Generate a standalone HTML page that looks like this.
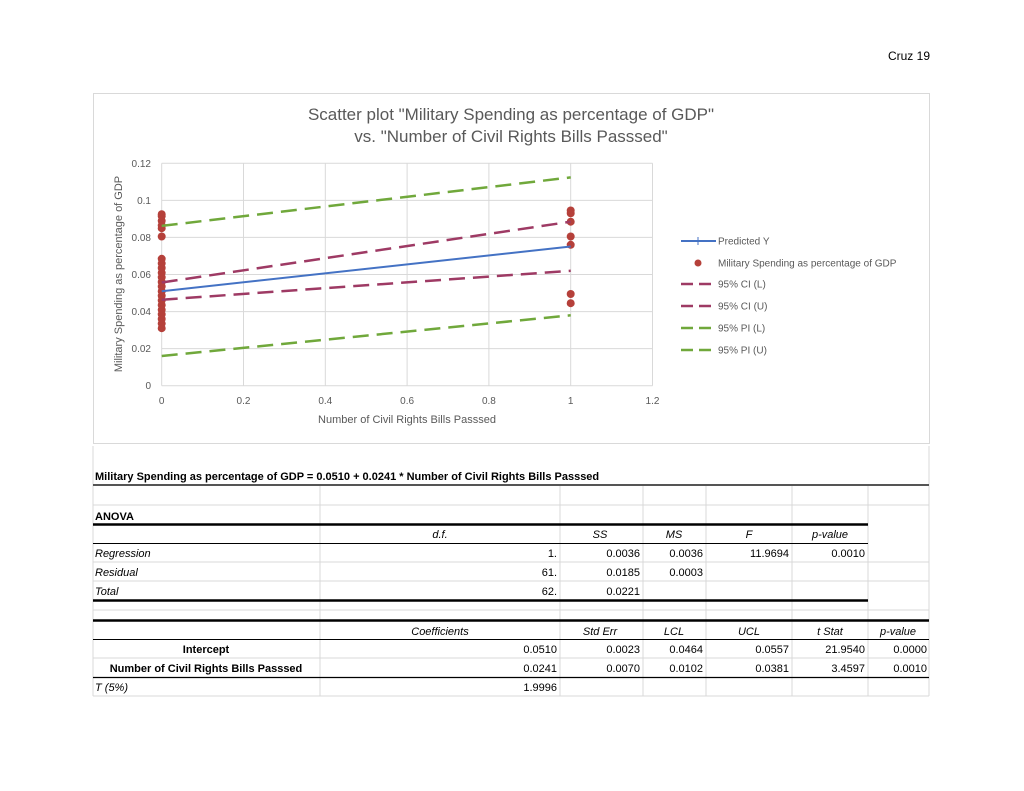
<!DOCTYPE html>
<html><head><meta charset="utf-8"><style>
html,body{margin:0;padding:0;background:#fff;}
svg{display:block;font-family:"Liberation Sans",sans-serif;}
.n{font-family:"Liberation Sans Narrow","Liberation Sans",sans-serif;font-size:11px;fill:#000;}
.i{font-style:italic;}
.b{font-weight:bold;}
</style></head><body>
<svg width="1024" height="791" viewBox="0 0 1024 791" xmlns="http://www.w3.org/2000/svg">
<text x="930" y="60" font-size="12" text-anchor="end" fill="#000">Cruz 19</text>
<rect x="93.5" y="93.5" width="836" height="350" fill="#fff" stroke="#d9d9d9"/>
<text x="511" y="120" font-size="17" text-anchor="middle" fill="#595959">Scatter plot "Military Spending as percentage of GDP"</text>
<text x="511" y="142" font-size="17" text-anchor="middle" fill="#595959">vs. "Number of Civil Rights Bills Passsed"</text>
<g stroke="#d9d9d9" stroke-width="1">
<line x1="161.7" y1="163.3" x2="652.5" y2="163.3"/>
<line x1="161.7" y1="200.4" x2="652.5" y2="200.4"/>
<line x1="161.7" y1="237.4" x2="652.5" y2="237.4"/>
<line x1="161.7" y1="274.5" x2="652.5" y2="274.5"/>
<line x1="161.7" y1="311.6" x2="652.5" y2="311.6"/>
<line x1="161.7" y1="348.6" x2="652.5" y2="348.6"/>
<line x1="161.7" y1="385.7" x2="652.5" y2="385.7"/>
<line x1="161.7" y1="163.3" x2="161.7" y2="385.7"/>
<line x1="243.5" y1="163.3" x2="243.5" y2="385.7"/>
<line x1="325.3" y1="163.3" x2="325.3" y2="385.7"/>
<line x1="407.1" y1="163.3" x2="407.1" y2="385.7"/>
<line x1="488.9" y1="163.3" x2="488.9" y2="385.7"/>
<line x1="570.7" y1="163.3" x2="570.7" y2="385.7"/>
<line x1="652.5" y1="163.3" x2="652.5" y2="385.7"/>
</g>
<g font-size="10" fill="#595959" text-anchor="end">
<text x="151" y="167">0.12</text><text x="151" y="204">0.1</text><text x="151" y="241">0.08</text>
<text x="151" y="278">0.06</text><text x="151" y="315">0.04</text><text x="151" y="352">0.02</text><text x="151" y="389">0</text>
</g>
<g font-size="10" fill="#595959" text-anchor="middle">
<text x="161.7" y="404">0</text><text x="243.5" y="404">0.2</text><text x="325.3" y="404">0.4</text><text x="407.1" y="404">0.6</text>
<text x="488.9" y="404">0.8</text><text x="570.7" y="404">1</text><text x="652.5" y="404">1.2</text>
</g>
<text x="407" y="423" font-size="11" fill="#595959" text-anchor="middle">Number of Civil Rights Bills Passsed</text>
<text transform="translate(122,274) rotate(-90)" font-size="11" fill="#595959" text-anchor="middle">Military Spending as percentage of GDP</text>
<g fill="#b5403a">
<circle cx="161.7" cy="328.2" r="4"/><circle cx="161.7" cy="323.6" r="4"/><circle cx="161.7" cy="319" r="4"/><circle cx="161.7" cy="314.3" r="4"/>
<circle cx="161.7" cy="309.7" r="4"/><circle cx="161.7" cy="305.1" r="4"/><circle cx="161.7" cy="300.4" r="4"/><circle cx="161.7" cy="295.8" r="4"/>
<circle cx="161.7" cy="291.2" r="4"/><circle cx="161.7" cy="286.5" r="4"/><circle cx="161.7" cy="282" r="4"/><circle cx="161.7" cy="277.3" r="4"/>
<circle cx="161.7" cy="272.7" r="4"/><circle cx="161.7" cy="268" r="4"/><circle cx="161.7" cy="263.4" r="4"/><circle cx="161.7" cy="258.8" r="4"/>
<circle cx="161.7" cy="236.5" r="4"/><circle cx="161.7" cy="228.2" r="4"/><circle cx="161.7" cy="225.4" r="4"/><circle cx="161.7" cy="220.7" r="4"/>
<circle cx="161.7" cy="216.1" r="4"/><circle cx="161.7" cy="214.2" r="4"/>
<circle cx="570.7" cy="210.5" r="4"/><circle cx="570.7" cy="213.3" r="4"/><circle cx="570.7" cy="221.7" r="4"/><circle cx="570.7" cy="236.5" r="4"/>
<circle cx="570.7" cy="244.8" r="4"/><circle cx="570.7" cy="294" r="4"/><circle cx="570.7" cy="303.2" r="4"/>
</g>
<line x1="161.7" y1="291.2" x2="570.7" y2="246.5" stroke="#4472c4" stroke-width="2"/>
<g stroke-width="2.5" stroke-dasharray="16,8" fill="none">
<line x1="161.7" y1="299.7" x2="570.7" y2="270.8" stroke="#9e3a64"/>
<line x1="161.7" y1="282.5" x2="570.7" y2="221.7" stroke="#9e3a64"/>
<line x1="161.7" y1="356" x2="570.7" y2="315.3" stroke="#70a83b"/>
<line x1="161.7" y1="225.9" x2="570.7" y2="177.4" stroke="#70a83b"/>
</g>
<g font-size="10" fill="#595959">
<line x1="681" y1="241" x2="716" y2="241" stroke="#4472c4" stroke-width="2"/><line x1="698" y1="237" x2="698" y2="245" stroke="#4472c4"/>
<text x="718" y="244.5">Predicted Y</text>
<circle cx="698" cy="263" r="3.5" fill="#b5403a"/><text x="718" y="266.5">Military Spending as percentage of GDP</text>
<line x1="681" y1="284" x2="716" y2="284" stroke="#9e3a64" stroke-width="2.5" stroke-dasharray="12,6"/><text x="718" y="287.5">95% CI (L)</text>
<line x1="681" y1="306" x2="716" y2="306" stroke="#9e3a64" stroke-width="2.5" stroke-dasharray="12,6"/><text x="718" y="309.5">95% CI (U)</text>
<line x1="681" y1="328" x2="716" y2="328" stroke="#70a83b" stroke-width="2.5" stroke-dasharray="12,6"/><text x="718" y="331.5">95% PI (L)</text>
<line x1="681" y1="350" x2="716" y2="350" stroke="#70a83b" stroke-width="2.5" stroke-dasharray="12,6"/><text x="718" y="353.5">95% PI (U)</text>
</g>
<!-- table -->
<g stroke="#d9d9d9" stroke-width="1">
<line x1="93" y1="446" x2="93" y2="696"/><line x1="929" y1="446" x2="929" y2="696"/>
<line x1="93" y1="505" x2="929" y2="505"/><line x1="93" y1="562" x2="929" y2="562"/><line x1="93" y1="581" x2="929" y2="581"/>
<line x1="93" y1="610" x2="929" y2="610"/><line x1="93" y1="658" x2="929" y2="658"/><line x1="93" y1="696" x2="929" y2="696"/>
<line x1="320" y1="486" x2="320" y2="696"/><line x1="560" y1="486" x2="560" y2="696"/><line x1="643" y1="486" x2="643" y2="696"/>
<line x1="706" y1="486" x2="706" y2="696"/><line x1="792" y1="486" x2="792" y2="696"/><line x1="868" y1="486" x2="868" y2="696"/>
</g>
<g stroke="#000">
<line x1="93" y1="485" x2="929" y2="485" stroke-width="2" stroke="#555"/>
<line x1="93" y1="524.5" x2="868" y2="524.5" stroke-width="2.5"/>
<line x1="93" y1="543.5" x2="868" y2="543.5" stroke-width="1"/>
<line x1="93" y1="600.5" x2="868" y2="600.5" stroke-width="2.5"/>
<line x1="93" y1="620.5" x2="929" y2="620.5" stroke-width="2.5"/>
<line x1="93" y1="639.5" x2="929" y2="639.5" stroke-width="1"/>
<line x1="93" y1="677.5" x2="929" y2="677.5" stroke-width="1.2"/>
</g>
<g class="n">
<text x="95" y="480" class="b">Military Spending as percentage of GDP =  0.0510 + 0.0241 * Number of Civil Rights Bills Passsed</text>
<text x="95" y="520" class="b">ANOVA</text>
<g class="i" text-anchor="middle"><text x="440" y="538">d.f.</text><text x="600" y="538">SS</text><text x="674" y="538">MS</text><text x="749" y="538">F</text><text x="830" y="538">p-value</text></g>
<g class="i"><text x="95" y="557">Regression</text><text x="95" y="576">Residual</text><text x="95" y="595">Total</text></g>
<g text-anchor="end">
<text x="557" y="557">1.</text><text x="640" y="557">0.0036</text><text x="703" y="557">0.0036</text><text x="789" y="557">11.9694</text><text x="865" y="557">0.0010</text>
<text x="557" y="576">61.</text><text x="640" y="576">0.0185</text><text x="703" y="576">0.0003</text>
<text x="557" y="595">62.</text><text x="640" y="595">0.0221</text>
</g>
<g class="i" text-anchor="middle"><text x="440" y="635">Coefficients</text><text x="600" y="635">Std Err</text><text x="674" y="635">LCL</text><text x="749" y="635">UCL</text><text x="830" y="635">t Stat</text><text x="898" y="635">p-value</text></g>
<g class="b" text-anchor="middle"><text x="206" y="653">Intercept</text><text x="206" y="672">Number of Civil Rights Bills Passsed</text></g>
<g text-anchor="end">
<text x="557" y="653">0.0510</text><text x="640" y="653">0.0023</text><text x="703" y="653">0.0464</text><text x="789" y="653">0.0557</text><text x="865" y="653">21.9540</text><text x="927" y="653">0.0000</text>
<text x="557" y="672">0.0241</text><text x="640" y="672">0.0070</text><text x="703" y="672">0.0102</text><text x="789" y="672">0.0381</text><text x="865" y="672">3.4597</text><text x="927" y="672">0.0010</text>
<text x="557" y="691">1.9996</text>
</g>
<text x="95" y="691" class="i">T (5%)</text>
</g>
</svg>
</body></html>
